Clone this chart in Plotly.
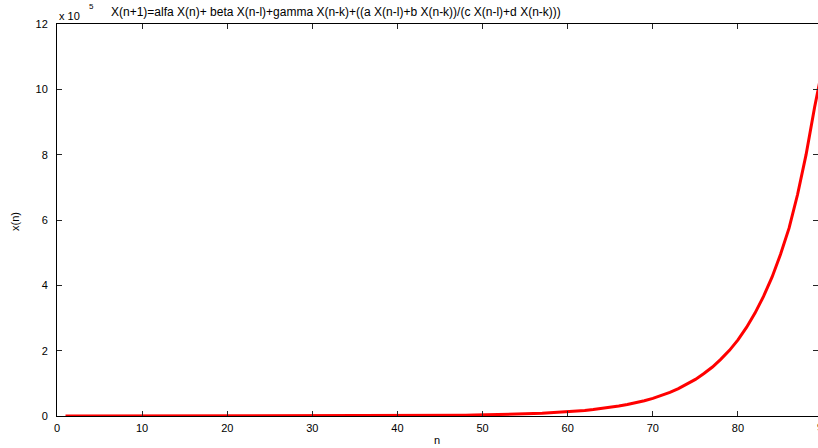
import plotly.graph_objects as go

# Iteration index and iterate values (x(n) in units of 1e5)
n_values = list(range(1, 91))
x_values = [
    0.00003, 0.00003, 0.00004, 0.00004, 0.00005, 0.00005, 0.00006, 0.00007, 0.00008, 0.00010,
    0.00011, 0.00013, 0.00015, 0.00017, 0.00020, 0.00023, 0.00026, 0.00030, 0.00035, 0.00040,
    0.00047, 0.00054, 0.00062, 0.00072, 0.00083, 0.00095, 0.0011, 0.0013, 0.0015, 0.0017,
    0.0020, 0.0023, 0.0027, 0.0031, 0.0036, 0.0041, 0.0047, 0.0055, 0.0063, 0.0073,
    0.0084, 0.0097, 0.011, 0.013, 0.015, 0.017, 0.020, 0.023, 0.027, 0.031,
    0.036, 0.041, 0.047, 0.055, 0.063, 0.073, 0.084, 0.097, 0.112, 0.129,
    0.148, 0.171, 0.198, 0.228, 0.264, 0.304, 0.351, 0.405, 0.468, 0.540,
    0.625, 0.723, 0.836, 0.968, 1.12, 1.30, 1.50, 1.74, 2.01, 2.33,
    2.71, 3.15, 3.66, 4.25, 4.95, 5.75, 6.78, 8.00, 9.45, 10.75,
]

x_ticks = [0, 10, 20, 30, 40, 50, 60, 70, 80]
y_ticks = [0, 2, 4, 6, 8, 10, 12]
x_view_end = 89.4  # visible part of the n axis (0..90 box, right edge cropped)
x_last_label = 90

title_text = "X(n+1)=alfa X(n)+ beta X(n-l)+gamma X(n-k)+((a X(n-l)+b X(n-k))/(c X(n-l)+d X(n-k)))"

W, H = 818, 448
ML, MR, MT, MB = 57, 0, 24, 32
PW, PH = W - ML - MR, H - MT - MB
FONT = "Liberation Sans, Arial, sans-serif"


def px(x):
    return (x - ML) / PW


def py(y):
    return (H - MB - y) / PH


fig = go.Figure()
fig.add_trace(go.Scatter(
    x=n_values, y=x_values, mode="lines",
    line=dict(color="#ff0000", width=3),
    hoverinfo="skip", showlegend=False,
))

axis_common = dict(
    showgrid=False, zeroline=False,
    showline=True, linecolor="#000000", linewidth=1,
    mirror="ticks", ticks="inside", ticklen=5, tickwidth=1, tickcolor="#262626",
    tickfont=dict(family=FONT, size=11, color="#000000"),
)

fig.update_xaxes(range=[0, x_view_end], tickvals=x_ticks, ticklabelstandoff=2, **axis_common)
fig.update_yaxes(range=[0, 12], tickvals=y_ticks, ticklabelstandoff=6, **axis_common)

annotations = [
    dict(text=title_text, x=px(109), y=py(12), xanchor="left", yanchor="middle",
         font=dict(size=12, color="#000000")),
    dict(text="x 10", x=px(57), y=py(16), xanchor="left", yanchor="middle",
         font=dict(size=11, color="#000000")),
    dict(text="5", x=px(87), y=py(6), xanchor="left", yanchor="middle",
         font=dict(size=8, color="#000000")),
    dict(text="n", x=px(437), y=py(440), xanchor="center", yanchor="middle",
         font=dict(size=11, color="#000000")),
    dict(text="x(n)", x=px(15), y=py(222), xanchor="center", yanchor="middle",
         textangle=-90, font=dict(size=11, color="#000000")),
    # last tick label, centred on n = 90 just past the cropped right edge
    dict(text=str(x_last_label), x=x_last_label / x_view_end, y=py(427),
         xanchor="center", yanchor="middle", font=dict(size=11, color="#000000")),
]
for a in annotations:
    a.update(xref="paper", yref="paper", showarrow=False)
    a["font"]["family"] = FONT

fig.update_layout(
    width=W, height=H, autosize=False,
    margin=dict(l=ML, r=MR, t=MT, b=MB, pad=0),
    paper_bgcolor="#ffffff", plot_bgcolor="#ffffff",
    font=dict(family=FONT, size=11, color="#000000"),
    annotations=annotations,
)

fig.write_html("out.html", config={"displayModeBar": False})
